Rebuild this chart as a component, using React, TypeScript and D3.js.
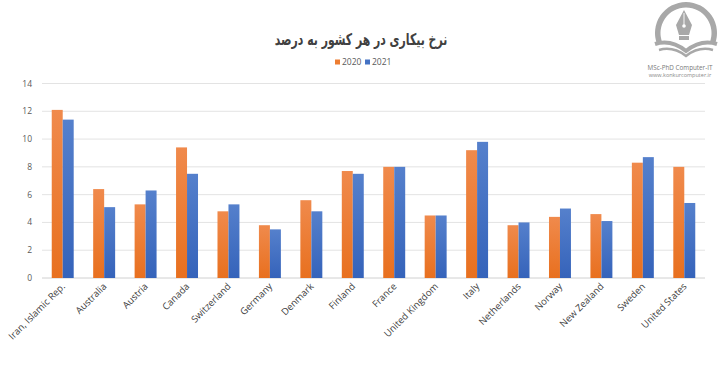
import React from "react";
import * as d3 from "d3";

const countries = [
  "Iran, Islamic Rep.", "Australia", "Austria", "Canada", "Switzerland", "Germany",
  "Denmark", "Finland", "France", "United Kingdom", "Italy", "Netherlands",
  "Norway", "New Zealand", "Sweden", "United States",
];
const values2020 = [12.1, 6.4, 5.3, 9.4, 4.8, 3.8, 5.6, 7.7, 8.0, 4.5, 9.2, 3.8, 4.4, 4.6, 8.3, 8.0];
const values2021 = [11.4, 5.1, 6.3, 7.5, 5.3, 3.5, 4.8, 7.5, 8.0, 4.5, 9.8, 4.0, 5.0, 4.1, 8.7, 5.4];
const seriesNames = ["2020", "2021"];
const yTicks = [0, 2, 4, 6, 8, 10, 12, 14];
const title = "نرخ بیکاری در هر کشور به درصد";

const W = 720, H = 380;
const plotLeft = 42, plotRight = 705, plotTop = 83.5, plotBottom = 278;
const colors = ["#ED7D31", "#4472C4"];

export default function App() {
  const x = d3.scaleBand<string>().domain(countries).range([plotLeft, plotRight]).paddingInner(0.47).paddingOuter(0.235);
  const xs = d3.scaleBand<string>().domain(seriesNames).range([0, x.bandwidth()]);
  const y = d3.scaleLinear().domain([0, 14]).range([plotBottom, plotTop]);
  const series = [values2020, values2021];
  const font = "'Open Sans', 'Noto Sans', sans-serif";
  const logo = "#a8a8a8";

  return (
    <svg width={W} height={H} style={{ position: "absolute", left: 0, top: 0, background: "#fff" }}>
      <defs>
        <linearGradient id="g0" x1="0" y1="0" x2="0" y2="1">
          <stop offset="0" stopColor="#F08A4C" />
          <stop offset="1" stopColor="#E8701F" />
        </linearGradient>
        <linearGradient id="g1" x1="0" y1="0" x2="0" y2="1">
          <stop offset="0" stopColor="#5580CC" />
          <stop offset="1" stopColor="#3563BA" />
        </linearGradient>
      </defs>
      <rect width={W} height={H} fill="#fff" />
      {/* title */}
      <text transform="translate(361,45) scale(0.68,1)" textAnchor="middle" fontFamily="'DejaVu Sans', sans-serif" fontWeight="bold" fontSize={16} fill="#404040">{title}</text>
      {/* legend */}
      {seriesNames.map((s, i) => (
        <g key={s} transform={`translate(${335 + i * 30},65)`}>
          <rect x={0} y={-5.5} width={5} height={5} fill={colors[i]} />
          <text x={7} y={0} fontFamily={font} fontSize={8.5} fill="#595959">{s}</text>
        </g>
      ))}
      {/* gridlines & y labels */}
      {yTicks.map((t) => (
        <g key={t}>
          <line x1={plotLeft} x2={plotRight} y1={y(t)} y2={y(t)} stroke={t === 0 ? "#d0d0d0" : "#e3e3e3"} strokeWidth={1} />
          <text x={32} y={y(t) + 3} textAnchor="end" fontFamily={font} fontSize={8.5} fill="#595959">{t}</text>
        </g>
      ))}
      {/* bars */}
      {countries.map((c, ci) => (
        <g key={c}>
          {series.map((vals, si) => (
            <rect key={si} x={(x(c) as number) + (xs(seriesNames[si]) as number)} y={y(vals[ci])}
              width={xs.bandwidth()} height={plotBottom - y(vals[ci])} fill={`url(#g${si})`} />
          ))}
        </g>
      ))}
      {/* x labels */}
      {countries.map((c) => {
        const cx = (x(c) as number) + x.bandwidth() / 2 + 3;
        return (
          <text key={c} transform={`translate(${cx},${287}) rotate(-45)`} textAnchor="end" fontFamily={font} fontSize={9.5} fill="#404040">{c}</text>
        );
      })}
      {/* logo */}
      <g>
        <path d={d3.arc()({ innerRadius: 25.5, outerRadius: 31, startAngle: -1.95, endAngle: 1.95 }) as string} transform="translate(686,33)" fill={logo} />
        <path d="M684,10 L692,25 L689,35 L679,35 L676,25 Z" fill={logo} />
        <rect x={679} y={36} width={10} height={4} fill={logo} />
        <circle cx={684} cy={26} r={1.8} fill="#fff" />
        <line x1={684} y1={13} x2={684} y2={26} stroke="#fff" strokeWidth={0.9} />
        <path d="M655,44 Q671,39 686,51 Q701,39 717,44" fill="none" stroke={logo} strokeWidth={4} />
        <path d="M659,50 Q673,46 686,56 Q699,46 713,50" fill="none" stroke={logo} strokeWidth={2.5} />
      </g>
      <text x={680} y={70} textAnchor="middle" fontFamily={font} fontSize={6.3} fill="#7a7a7a">MSc-PhD Computer-IT</text>
      <text x={680} y={77} textAnchor="middle" fontFamily={font} fontSize={5.5} fill="#8a8a8a">www.konkurcomputer.ir</text>
    </svg>
  );
}
